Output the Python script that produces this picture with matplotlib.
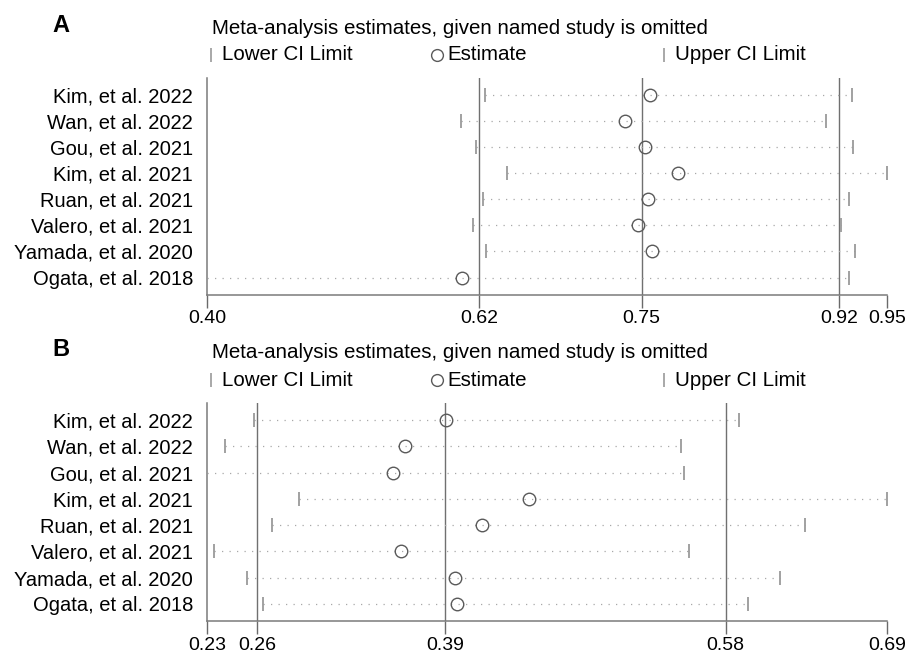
import matplotlib
matplotlib.use("Agg")
from matplotlib import pyplot as plt


studies = ["Kim, et al. 2022", "Wan, et al. 2022", "Gou, et al. 2021", "Kim, et al. 2021",
           "Ruan, et al. 2021", "Valero, et al. 2021", "Yamada, et al. 2020", "Ogata, et al. 2018"]

# panel A
a_lower = [0.624, 0.604, 0.617, 0.642, 0.622, 0.614, 0.625, 0.395]
a_est = [0.760, 0.739, 0.756, 0.783, 0.758, 0.750, 0.762, 0.605]
a_upper = [0.926, 0.905, 0.927, 0.955, 0.924, 0.917, 0.929, 0.924]
a_overall = [0.619, 0.753, 0.916]
a_ticks = [0.395, 0.619, 0.753, 0.916, 0.955]
a_ticklabels = ["0.40", "0.62", "0.75", "0.92", "0.95"]

# panel B
b_lower = [0.262, 0.242, 0.230, 0.292, 0.274, 0.2345, 0.257, 0.268]
b_est = [0.392, 0.364, 0.356, 0.448, 0.416, 0.361, 0.398, 0.399]
b_upper = [0.590, 0.551, 0.553, 0.690, 0.635, 0.556, 0.618, 0.596]
b_overall = [0.264, 0.391, 0.581]
b_ticks = [0.230, 0.264, 0.391, 0.581, 0.690]
b_ticklabels = ["0.23", "0.26", "0.39", "0.58", "0.69"]

title = "Meta-analysis estimates, given named study is omitted"
font = ["Liberation Sans", "DejaVu Sans"]
plt.rcParams['font.family'] = font


def panel(fig, rect, lower, est, upper, overall, ticks, ticklabels):
    ax = fig.add_axes(rect)
    ys = list(range(len(studies), 0, -1))
    for o in overall:
        ax.axvline(o, color="#707070", lw=1.0, zorder=1)
    for y, lo, e, up in zip(ys, lower, est, upper):
        ax.plot([lo, up], [y, y], color="#a8a8a8", lw=0.9, linestyle=(0, (1, 5)), zorder=2)
    ax.plot(lower, ys, linestyle="none", marker="|", markersize=10.5, mew=1.3, color="#9a9a9a", zorder=3)
    ax.plot(upper, ys, linestyle="none", marker="|", markersize=10.5, mew=1.3, color="#9a9a9a", zorder=3)
    ax.plot(est, ys, linestyle="none", marker="o", markersize=9, mew=1.0, mfc="none",
            color="#5a5a5a", zorder=4)
    ax.set_xlim(ticks[0], ticks[-1])
    ax.set_ylim(0.34, len(studies) + 0.66)
    ax.set_xticks(ticks, ticklabels, fontsize=14)
    ax.set_yticks(ys, studies, fontsize=14.5)
    ax.tick_params(axis="y", length=0, pad=10)
    ax.tick_params(axis="x", length=9, width=1, color="#6a6a6a", pad=2)
    for side in ["top", "right"]:
        ax.spines[side].set_visible(False)
    for side in ["left", "bottom"]:
        ax.spines[side].set_color("#7a7a7a")
        ax.spines[side].set_linewidth(1.1)
    return ax


def header(fig, ax, letter, y_letter, y_title, y_legend):
    W, H = 917, 653
    fig.text(52 / W, y_letter, letter, fontsize=17, fontweight="bold", va="center", ha="left")
    fig.text(212 / W, y_title, title, fontsize=14.8, va="center", ha="left")
    ax.plot([211 / W], [y_legend], marker="|", markersize=10, mew=1.2, color="#9a9a9a",
            transform=fig.transFigure, clip_on=False)
    fig.text(222 / W, y_legend, "Lower CI Limit", fontsize=14.8, va="center", ha="left")
    ax.plot([437 / W], [y_legend], marker="o", markersize=8.5, mew=1.0, mfc="none", color="#5a5a5a",
            transform=fig.transFigure, clip_on=False)
    fig.text(447 / W, y_legend, "Estimate", fontsize=14.8, va="center", ha="left")
    ax.plot([664 / W], [y_legend], marker="|", markersize=10, mew=1.2, color="#9a9a9a",
            transform=fig.transFigure, clip_on=False)
    fig.text(675 / W, y_legend, "Upper CI Limit", fontsize=14.8, va="center", ha="left")


def main():
    fig = plt.figure(figsize=(9.17, 6.53), dpi=100)
    W, H = 917, 653
    ax_a = panel(fig, [207 / W, 1 - 294.7 / H, 679.7 / W, 216.7 / H],
                 a_lower, a_est, a_upper, a_overall, a_ticks, a_ticklabels)
    header(fig, ax_a, "A", 1 - 26 / H, 1 - 28 / H, 1 - 55 / H)
    ax_b = panel(fig, [207 / W, 1 - 621.3 / H, 679.7 / W, 218.6 / H],
                 b_lower, b_est, b_upper, b_overall, b_ticks, b_ticklabels)
    header(fig, ax_b, "B", 1 - 350 / H, 1 - 353 / H, 1 - 380 / H)
    fig.savefig("out.png", dpi=100)


if __name__ == "__main__":
    main()
